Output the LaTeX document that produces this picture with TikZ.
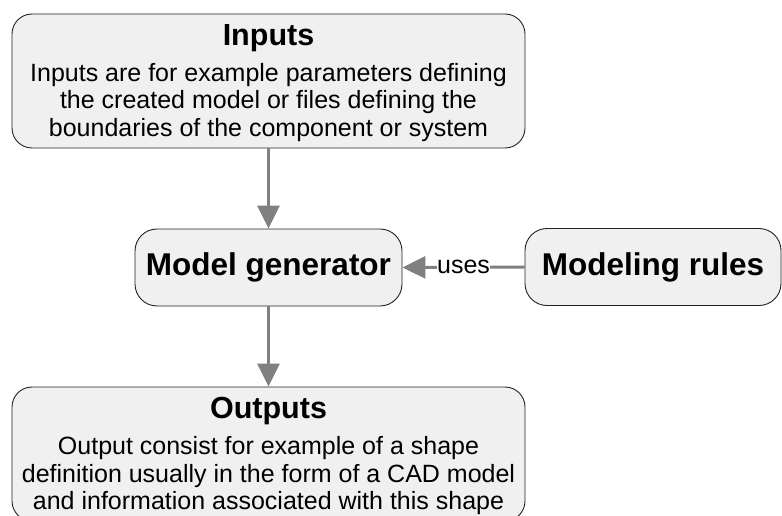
\documentclass[tikz,border=0pt]{standalone}
\usepackage{fontspec}
\setmainfont{Liberation Sans}
\usetikzlibrary{arrows.meta}

\definecolor{boxfill}{HTML}{F0F0F0}
\definecolor{boxline}{HTML}{222222}
\definecolor{flowgray}{HTML}{808080}

\newcommand{\titlefont}{\fontsize{30.5}{36}\selectfont\bfseries}
\newcommand{\headfont}{\fontsize{31.5}{36}\selectfont\bfseries}
\newcommand{\bodyfont}{\fontsize{25}{27.5}\selectfont}

\tikzset{
  box/.style={draw=boxline, line width=0.9pt, fill=boxfill, rounded corners=20pt,
    inner sep=0pt, align=center, font=\bodyfont},
  bigbox/.style={box, minimum width=513pt, minimum height=134pt},
  boxtext/.style={inner sep=0pt, align=center, font=\bodyfont},
  smallbox/.style={box, rounded corners=22pt, minimum height=77pt, font=\headfont},
  flow/.style={draw=flowgray, line width=3pt,
    -{Triangle[length=23pt, width=22pt]}},
  flowlabel/.style={fill=white, inner sep=0.5pt, font=\bodyfont, text=black}
}

\begin{document}
\begin{tikzpicture}[x=1pt, y=-1pt]
  \useasboundingbox (0,0) rectangle (782,516);
  \clip (0,0) rectangle (782,516);

  % main boxes
  \node[bigbox] (inputs) at (268.5,81) {};
  \node[boxtext] (inputstext) at ([yshift=-2pt]inputs.center)
    {{\titlefont Inputs}\\[8.5pt]
     Inputs are for example parameters defining\\
     the created model or files defining the\\
     boundaries of the component or system};

  \node[smallbox, minimum width=267pt] (gen) at (268.5,267.5) {Model generator};

  \node[smallbox, minimum width=256pt] (rules) at (653,267) {Modeling rules};

  \node[bigbox] (outputs) at (268.5,454) {};
  \node[boxtext] (outputstext) at ([yshift=-2pt]outputs.center)
    {{\titlefont Outputs}\\[8.5pt]
     Output consist for example of a shape\\
     definition usually in the form of a CAD model\\
     and information associated with this shape};

  % connectors
  \draw[flow] (inputs.south) -- (gen.north);
  \draw[flow] (gen.south) -- (outputs.north);
  \draw[flow] (rules.west) -- node[flowlabel] (useslabel) {uses} (gen.east);
\end{tikzpicture}
\end{document}
